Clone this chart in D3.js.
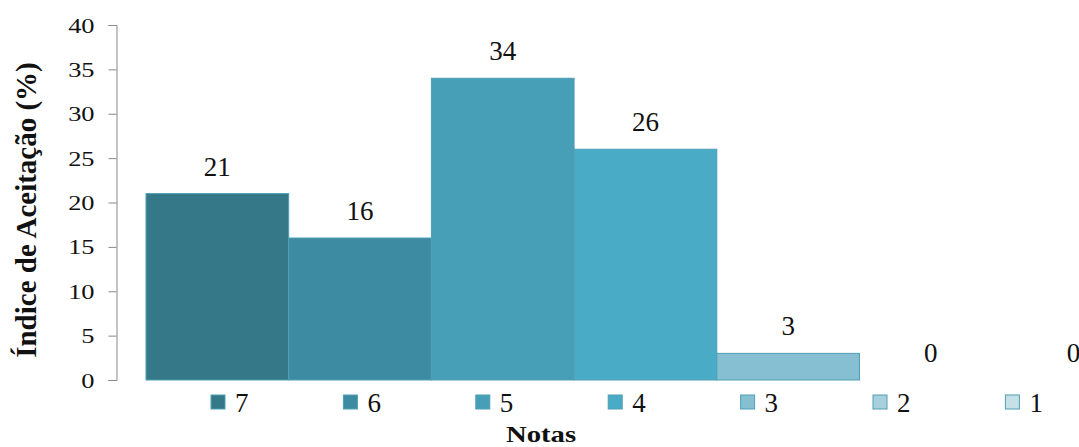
<!DOCTYPE html>
<html>
<head>
<meta charset="utf-8">
<script src="https://cdn.jsdelivr.net/npm/d3@7"></script>
<style>
  html, body { margin: 0; padding: 0; background: #fff; overflow: hidden; }
  svg { display: block; }
</style>
</head>
<body>
<svg id="chart" width="1079" height="447"></svg>
<script>
// Acceptance index (%) per score
const notas = ["7", "6", "5", "4", "3", "2", "1"];
const indice = [21, 16, 34, 26, 3, 0, 0];
const cores = ["#357888", "#3d8ba2", "#469fb7", "#4aabc6", "#86bfd1", "#a7cfdd", "#c6e0e8"];
const yTicks = [0, 5, 10, 15, 20, 25, 30, 35, 40];

const serif = "Liberation Serif";
const svg = d3.select("#chart");

const x = d3.scaleBand().domain(notas).range([146, 146 + 7 * 142.7]).padding(0);
const y = d3.scaleLinear().domain([0, 40]).range([380, 25]);

// y axis
const yAxis = d3.axisLeft(y).tickValues(yTicks).tickSize(8).tickPadding(14).tickFormat(d3.format("d"));
const gy = svg.append("g").attr("transform", "translate(116.5,0)").call(yAxis)
  .attr("font-family", serif).attr("font-size", 22);
gy.select(".domain").attr("stroke", "#888").attr("d", "M-8,25.5H0.5V380.5H-8");
gy.selectAll(".tick line").attr("stroke", "#888");
gy.selectAll(".tick text").attr("fill", "#111")
  .attr("transform", "scale(1.2,1)")
  .attr("x", -22 / 1.2);

// bars
svg.append("g").selectAll("rect").data(indice).join("rect")
  .attr("x", (d, i) => x(notas[i]))
  .attr("y", d => y(d))
  .attr("width", x.bandwidth())
  .attr("height", d => y(0) - y(d))
  .attr("fill", (d, i) => cores[i])
  .attr("stroke", "#4f9fb4")
  .attr("stroke-width", 1);

// value labels
svg.append("g").selectAll("text").data(indice).join("text")
  .attr("x", (d, i) => x(notas[i]) + x.bandwidth() / 2)
  .attr("y", d => y(d) - 18)
  .attr("text-anchor", "middle")
  .attr("fill", "#111")
  .attr("font-family", serif)
  .attr("font-size", 27)
  .text(d => d);

// legend
const leg = svg.append("g").selectAll("g").data(notas).join("g")
  .attr("transform", (d, i) => `translate(${211 + i * 132.4},395)`);
leg.append("rect").attr("width", 14).attr("height", 14)
  .attr("fill", (d, i) => cores[i]).attr("stroke", "#4f9fb4").attr("stroke-width", 1);
leg.append("text").attr("x", 24).attr("y", 17).attr("fill", "#111")
  .attr("font-family", serif).attr("font-size", 27).text(d => d);

// axis titles
svg.append("text").attr("transform", "translate(541,442) scale(1.25,1)").attr("text-anchor", "middle")
  .attr("fill", "#111").attr("font-family", serif).attr("font-size", 23)
  .attr("font-weight", "bold").text("Notas");
svg.append("text").attr("transform", "translate(36,210) rotate(-90)").attr("text-anchor", "middle")
  .attr("fill", "#111").attr("font-family", serif).attr("font-size", 29)
  .attr("font-weight", "bold").text("Índice de Aceitação (%)");
</script>
</body>
</html>
